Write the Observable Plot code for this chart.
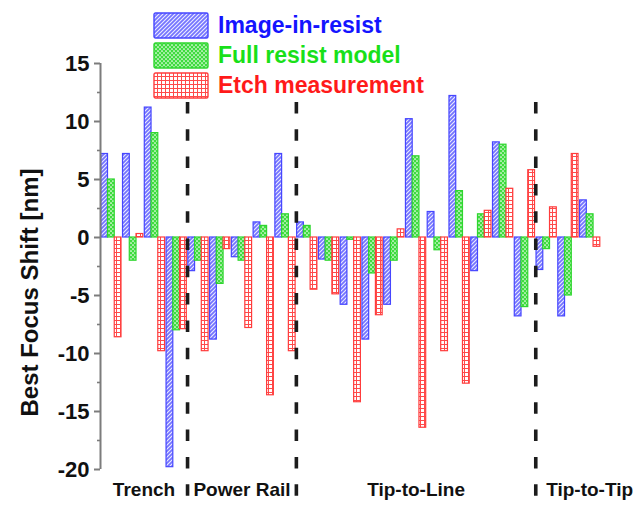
<!DOCTYPE html>
<html>
<head>
<meta charset="utf-8">
<script src="https://cdn.jsdelivr.net/npm/d3@7"></script>
<script src="https://cdn.jsdelivr.net/npm/@observablehq/plot@0.6"></script>
<style>
  html, body { margin: 0; padding: 0; background: #fff; }
  #chart { position: relative; width: 643px; height: 509px; font-family: "Liberation Sans", Arial, sans-serif; }
  #chart > svg { position: absolute; left: 0; top: 0; }
  #legend { position: absolute; left: 153px; top: 10px; z-index: 2; }
  .row { display: flex; align-items: center; height: 30px; }
  .row svg { display: block; }
  .row span { margin-left: 9px; font-weight: bold; font-size: 23px; line-height: 26px; white-space: nowrap; }
</style>
</head>
<body>
<!-- fill patterns shared by the bars and the legend swatches -->
<svg width="0" height="0" style="position:absolute">
  <defs>
    <pattern id="pat-image" patternUnits="userSpaceOnUse" width="4" height="4">
      <rect width="4" height="4" fill="#7474ff"/>
      <path d="M-1,1 l2,-2 M0,4 l4,-4 M3,5 l2,-2" stroke="#ececff" stroke-width="1.1"/>
    </pattern>
    <pattern id="pat-resist" patternUnits="userSpaceOnUse" width="4" height="4">
      <rect width="4" height="4" fill="#3fdc3f"/>
      <circle cx="1" cy="1" r="0.85" fill="#ffffff"/>
      <circle cx="3" cy="3" r="0.85" fill="#ffffff"/>
    </pattern>
    <pattern id="pat-etch" patternUnits="userSpaceOnUse" width="4" height="4">
      <rect width="4" height="4" fill="#ffffff"/>
      <path d="M0,0.5 H4 M0.5,0 V4" stroke="#ff4a4a" stroke-width="1"/>
    </pattern>
  </defs>
</svg>
<div id="chart"><div id="legend"></div></div>
<script>
// Best focus shift per test structure, three estimates per structure
const categories = ["Trench", "Power Rail", "Tip-to-Line", "Tip-to-Tip"];
const groupsPerCategory = [4, 5, 11, 3];
const seriesNames = ["Image-in-resist", "Full resist model", "Etch measurement"];

const imageInResist = [7.2, 7.2, 11.2, -19.8, -2.9, -8.8, -1.7, 1.3, 7.2,
  1.3, -1.9, -5.8, -8.8, -5.8, 10.2, 2.2, 12.2, -2.9, 8.2, -6.8,
  -2.8, -6.8, 3.2];
const fullResistModel = [5.0, -2.0, 9.0, -8.0, -2.0, -4.0, -2.0, 1.0, 2.0,
  1.0, -2.0, -0.2, -3.1, -2.0, 7.0, -1.1, 4.0, 2.0, 8.0, -6.0,
  -1.0, -5.0, 2.0];
const etchMeasurement = [-8.6, 0.3, -9.8, -7.9, -9.8, -1.0, -7.8, -13.6, -9.8,
  -4.5, -4.9, -14.2, -6.7, 0.7, -16.4, -9.8, -12.6, 2.3, 4.2, 5.8,
  2.6, 7.2, -0.8];

const yTicks = [-20, -15, -10, -5, 0, 5, 10, 15];
const yMinorTicks = [-17.5, -12.5, -7.5, -2.5, 2.5, 7.5, 12.5];

// styling per series
const seriesStyle = [
  {fill: "url(#pat-image)", stroke: "#4646ff", text: "#1414ff"},
  {fill: "url(#pat-resist)", stroke: "#2fd62f", text: "#19e019"},
  {fill: "url(#pat-etch)", stroke: "#ff3c3c", text: "#ff1a1a"}
];
const seriesValues = [imageInResist, fullResistModel, etchMeasurement];

const xDomain = [0.5, 25.45];
const barWidth = 0.31;

// long table: one row per bar
const rows = [];
seriesValues.forEach((vals, k) => vals.forEach((v, j) => rows.push({series: seriesNames[k], k, i: j + 1, value: v})));

// category boundaries (between groups) and label centres
const boundaries = [];
const categoryLabels = [];
let start = xDomain[0], count = 0;
categories.forEach((name, c) => {
  count += groupsPerCategory[c];
  const end = c < categories.length - 1 ? count + 0.5 : xDomain[1];
  if (c < categories.length - 1) boundaries.push(end);
  categoryLabels.push({name, x: (start + end) / 2});
  start = end;
});

const font = '"Liberation Sans", Arial, sans-serif';

const barMarks = seriesStyle.map((s, k) =>
  Plot.rect(rows.filter(d => d.k === k), {
    x1: d => d.i + (k - 1.5) * barWidth,
    x2: d => d.i + (k - 0.5) * barWidth,
    y1: 0,
    y2: "value",
    fill: s.fill,
    stroke: s.stroke,
    strokeWidth: 1.2
  })
);

const chart = Plot.plot({
  width: 643,
  height: 509,
  marginLeft: 100,
  marginRight: 0,
  marginTop: 63,
  marginBottom: 40,
  style: {fontFamily: font, background: "transparent", overflow: "visible", color: "#111"},
  x: {domain: xDomain, axis: null},
  y: {domain: [-20, 15]},
  marks: [
    ...barMarks,
    Plot.ruleX(boundaries, {stroke: "#1c1c1c", strokeWidth: 3.6, strokeDasharray: "11.5,15.8", insetTop: 39, insetBottom: -41}),
    Plot.ruleX([xDomain[0]], {stroke: "#7c7c7c", strokeWidth: 2}),
    Plot.axisY({ticks: yTicks, tickSize: 6, tickPadding: 5, tickFormat: d => String(d),
      fontSize: 22, fontWeight: "bold", stroke: "#7c7c7c", strokeWidth: 2, fill: "#111", label: null}),
    Plot.axisY({ticks: yMinorTicks, tickSize: 3, tickFormat: () => "", stroke: "#7c7c7c", strokeWidth: 1.6, label: null}),
    Plot.text(["Best Focus Shift [nm]"], {frameAnchor: "left", textAnchor: "middle", rotate: -90, dx: -70, dy: 26,
      fontSize: 24, fontWeight: "bold", fill: "#111"}),
    Plot.text(categoryLabels, {x: "x", text: "name", frameAnchor: "bottom", dy: 26,
      fontSize: 19, fontWeight: "bold", fill: "#111"})
  ]
});

const container = document.getElementById("chart");
container.insertBefore(chart, container.firstChild);

// legend overlaid in the upper part of the chart
const legend = d3.select("#legend");
seriesNames.forEach((name, k) => {
  const row = legend.append("div").attr("class", "row");
  const sw = row.append("svg").attr("width", 56).attr("height", 27);
  sw.append("rect").attr("x", 1).attr("y", 1).attr("width", 54).attr("height", 25).attr("rx", 1.5)
    .attr("fill", seriesStyle[k].fill).attr("stroke", seriesStyle[k].stroke).attr("stroke-width", 1.4);
  row.append("span").style("color", seriesStyle[k].text).text(name);
});
</script>
</body>
</html>
